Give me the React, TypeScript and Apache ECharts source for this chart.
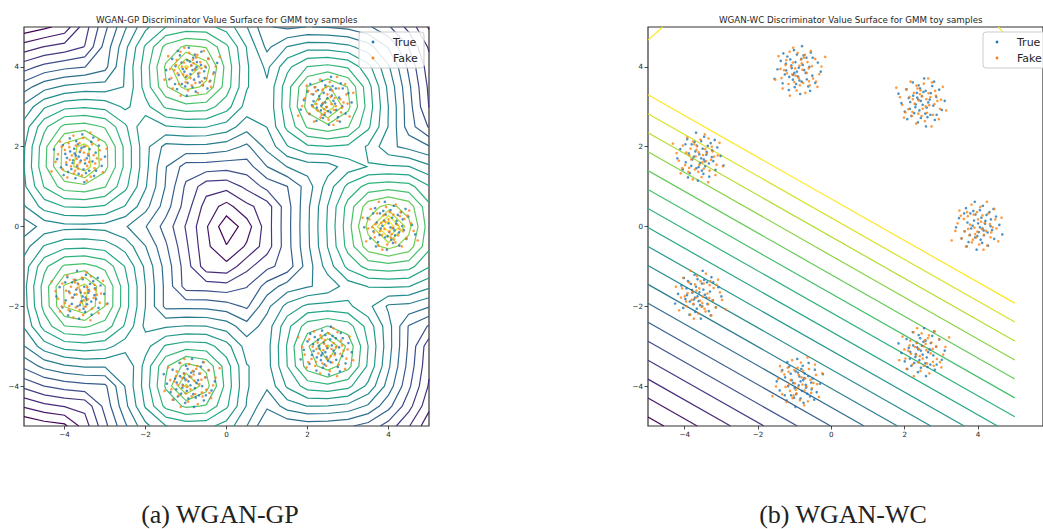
import React, { useEffect, useRef } from "react";
import * as echarts from "echarts";

// ---------------- data ----------------
const clusterX = [4.0, 2.49, -0.89, -3.6, -3.6, -0.89, 2.49];
const clusterY = [0.0, 3.13, 3.9, 1.73, -1.73, -3.9, -3.13];
// relative critic height at each mode (WGAN-GP surface)
const gpPeak = [1.0, 0.85, 0.92, 0.95, 0.9, 0.76, 0.76];
const gpOuterFalloff = 0.1; // drop of the critic outside the ring of modes
const gpLevelCount = 18;
const tickValues = [-4, -2, 0, 2, 4];

// WGAN-WC: straight contour levels of  y + 0.522 x
const wcSlope = 0.522;
const wcLevels = [0.69, 0.215, -0.26, -0.735, -1.21, -1.685, -2.16, -2.635, -3.11, -3.585, -4.06, -4.535, -5.01, -5.485, -5.96, -6.435, -6.91, -7.385];
const wcCornerLines = [
  [[-5, 4.67], [-4.6, 5.0]],
  [[4.55, 5.0], [4.68, 4.87]],
];

const trueOffsets = [
  [0.12, -0.05], [-0.21, 0.33], [0.35, 0.18], [-0.08, -0.27], [0.44, -0.31], [-0.37, -0.12], [0.05, 0.41], [0.19, 0.07], [-0.15, 0.02], [0.27, -0.48],
  [-0.52, 0.21], [0.02, -0.14], [0.31, 0.36], [-0.26, -0.39], [0.09, 0.22], [-0.04, -0.58], [0.58, 0.04], [-0.11, 0.15], [0.16, -0.22], [-0.33, 0.46],
  [0.23, 0.29], [-0.45, -0.3], [0.07, -0.33], [0.38, -0.09], [-0.19, -0.05], [0.0, 0.08], [-0.29, 0.1], [0.13, 0.52], [0.49, 0.25], [-0.07, 0.3],
  [0.26, -0.15], [-0.6, -0.02], [0.11, -0.41], [-0.22, -0.21], [0.34, 0.01], [-0.13, 0.39], [0.05, -0.02], [0.66, -0.2], [-0.38, 0.33], [0.2, 0.14],
  [-0.02, -0.24], [0.42, 0.44], [-0.31, -0.5], [0.15, -0.1], [-0.09, 0.62],
];
const fakeOffsets = [
  [-0.1, 0.06], [0.28, -0.26], [-0.34, 0.27], [0.17, 0.4], [-0.47, -0.18], [0.36, 0.12], [0.03, -0.36], [-0.18, -0.09], [0.51, -0.4], [-0.25, 0.48],
  [0.08, 0.19], [-0.4, 0.02], [0.22, -0.05], [-0.06, -0.49], [0.45, 0.3], [-0.28, -0.33], [0.14, 0.33], [0.62, 0.11], [-0.16, 0.21], [0.0, -0.18],
  [-0.55, 0.37], [0.3, -0.36], [-0.12, -0.28], [0.1, 0.03], [0.39, -0.19], [-0.32, -0.06], [-0.03, 0.45], [0.24, 0.22], [-0.44, -0.44], [0.18, -0.55],
  [-0.21, 0.11], [0.56, -0.08], [0.06, 0.28], [-0.36, 0.15], [0.33, 0.5], [-0.08, -0.12], [0.12, -0.3], [-0.64, -0.22], [0.27, 0.06], [-0.15, 0.58],
  [0.47, -0.27], [0.02, 0.13], [-0.24, -0.62], [0.72, 0.35], [-0.5, 0.05],
];
const mirrors = [[1, 1], [-1, 1], [1, -1], [-1, -1], [1, 1], [-1, -1], [-1, 1]];

// ---------------- helpers ----------------
const VIRIDIS = ["#440154", "#482475", "#414487", "#355f8d", "#2a788e", "#21918c", "#22a884", "#44bf70", "#7ad151", "#bddf26", "#fde725"];
function hex(c: string) { return [parseInt(c.slice(1, 3), 16), parseInt(c.slice(3, 5), 16), parseInt(c.slice(5, 7), 16)]; }
function viridis(t: number) {
  t = Math.max(0, Math.min(1, t));
  const p = t * (VIRIDIS.length - 1);
  const i = Math.min(VIRIDIS.length - 2, Math.floor(p));
  const f = p - i;
  const a = hex(VIRIDIS[i]), b = hex(VIRIDIS[i + 1]);
  const c = a.map((v, k) => Math.round(v + (b[k] - v) * f));
  return `rgb(${c[0]},${c[1]},${c[2]})`;
}

function gpValue(x: number, y: number) {
  let best = -Infinity;
  const P = 3;
  for (let i = 0; i < clusterX.length; i++) {
    const dx = Math.abs(x - clusterX[i]), dy = Math.abs(y - clusterY[i]);
    const d = Math.pow(Math.pow(dx, P) + Math.pow(dy, P), 1 / P);
    const v = gpPeak[i] - Math.pow(d, 0.8);
    if (v > best) best = v;
  }
  const r = Math.sqrt(x * x + y * y);
  return best - gpOuterFalloff * Math.max(0, r - 4.8);
}

function contourLines(N: number) {
  const xs: number[] = [];
  for (let i = 0; i <= N; i++) xs.push(-5 + (10 * i) / N);
  const Z: number[][] = [];
  let zmin = Infinity, zmax = -Infinity;
  for (let i = 0; i <= N; i++) {
    Z.push([]);
    for (let j = 0; j <= N; j++) {
      const v = gpValue(xs[i], xs[j]);
      Z[i].push(v);
      zmin = Math.min(zmin, v); zmax = Math.max(zmax, v);
    }
  }
  const out: any[] = [];
  const step = (zmax - zmin) / (gpLevelCount + 1);
  for (let k = 1; k <= gpLevelCount; k++) {
    const L = zmin + step * k;
    const color = viridis((k - 1) / (gpLevelCount - 1));
    const pts: Record<string, number[]> = {};
    const adj: Record<string, string[]> = {};
    const edgePt = (id: string) => {
      if (pts[id]) return;
      const [t, a, b] = id.split(",");
      const i = +a, j = +b;
      if (t === "h") {
        const v0 = Z[i][j], v1 = Z[i + 1][j];
        const f = (L - v0) / (v1 - v0);
        pts[id] = [xs[i] + (xs[i + 1] - xs[i]) * f, xs[j]];
      } else {
        const v0 = Z[i][j], v1 = Z[i][j + 1];
        const f = (L - v0) / (v1 - v0);
        pts[id] = [xs[i], xs[j] + (xs[j + 1] - xs[j]) * f];
      }
    };
    const link = (a: string, b: string) => {
      edgePt(a); edgePt(b);
      (adj[a] = adj[a] || []).push(b);
      (adj[b] = adj[b] || []).push(a);
    };
    for (let i = 0; i < N; i++) {
      for (let j = 0; j < N; j++) {
        const v00 = Z[i][j], v10 = Z[i + 1][j], v11 = Z[i + 1][j + 1], v01 = Z[i][j + 1];
        const c = (v00 > L ? 1 : 0) | (v10 > L ? 2 : 0) | (v11 > L ? 4 : 0) | (v01 > L ? 8 : 0);
        const B = `h,${i},${j}`, T = `h,${i},${j + 1}`, Le = `v,${i},${j}`, R = `v,${i + 1},${j}`;
        const center = (v00 + v10 + v11 + v01) / 4 > L;
        switch (c) {
          case 1: case 14: link(Le, B); break;
          case 2: case 13: link(B, R); break;
          case 3: case 12: link(Le, R); break;
          case 4: case 11: link(R, T); break;
          case 6: case 9: link(B, T); break;
          case 7: case 8: link(Le, T); break;
          case 5:
            if (center) { link(B, R); link(T, Le); } else { link(Le, B); link(R, T); }
            break;
          case 10:
            if (center) { link(Le, B); link(R, T); } else { link(B, R); link(T, Le); }
            break;
        }
      }
    }
    const used = new Set<string>();
    const walk = (start: string) => {
      const line: number[][] = [pts[start]];
      used.add(start);
      let cur = start;
      while (true) {
        const nxt = (adj[cur] || []).find((n) => !used.has(n));
        if (!nxt) {
          if ((adj[cur] || []).includes(start) && line.length > 2) line.push(pts[start]);
          break;
        }
        used.add(nxt);
        line.push(pts[nxt]);
        cur = nxt;
      }
      return line;
    };
    const ids = Object.keys(adj);
    for (const id of ids) if (!used.has(id) && adj[id].length === 1) out.push({ coords: walk(id), lineStyle: { color } });
    for (const id of ids) if (!used.has(id)) out.push({ coords: walk(id), lineStyle: { color } });
  }
  return out;
}

function wcLines() {
  const cmax = Math.max(...wcLevels), cmin = Math.min(...wcLevels);
  const out: any[] = [];
  for (const c of wcLevels) {
    const xa = Math.max(-5, (c - 5) / wcSlope);
    const xb = Math.min(5, (c + 5) / wcSlope);
    if (xa >= xb) continue;
    out.push({ coords: [[xa, c - wcSlope * xa], [xb, c - wcSlope * xb]], lineStyle: { color: viridis((c - cmin) / (cmax - cmin)) } });
  }
  for (const seg of wcCornerLines) out.push({ coords: seg, lineStyle: { color: viridis(1) } });
  return out;
}

function clusterPoints(offsets: number[][], shift: number) {
  const pts: number[][] = [];
  for (let i = 0; i < clusterX.length; i++) {
    const [sx, sy] = mirrors[(i + shift) % mirrors.length];
    for (const o of offsets) pts.push([clusterX[i] + sx * o[0], clusterY[i] + sy * o[1]]);
  }
  return pts;
}

const fmt = (v: number) => (v < 0 ? "\u2212" + Math.abs(v) : String(v));

function axis(gi: number, max: number) {
  return {
    type: "value", gridIndex: gi, min: -5, max,
    axisLine: { show: false, onZero: false },
    splitLine: { show: false },
    axisTick: { show: true, length: 3.5, customValues: tickValues, lineStyle: { color: "#222", width: 0.8 } },
    axisLabel: { customValues: tickValues, formatter: fmt, fontSize: 7.2, color: "#262626", fontFamily: "DejaVu Sans", margin: 5 },
  };
}

function legend(x: number) {
  const z = 100;
  return {
    type: "group", x, y: 32, z,
    children: [
      { type: "rect", z, shape: { x: 0, y: 0, width: 65, height: 36, r: 3 }, style: { fill: "rgba(255,255,255,0.85)", stroke: "#cccccc", lineWidth: 1 } },
      { type: "circle", z: z + 1, shape: { cx: 14, cy: 10, r: 1.4 }, style: { fill: "#1f77b4" } },
      { type: "circle", z: z + 1, shape: { cx: 14, cy: 26, r: 1.4 }, style: { fill: "#ff7f0e" } },
      { type: "text", z: z + 1, x: 34, y: 10, style: { text: "True", font: '11px "DejaVu Sans"', fill: "#262626", textVerticalAlign: "middle" } },
      { type: "text", z: z + 1, x: 34, y: 26, style: { text: "Fake", font: '11px "DejaVu Sans"', fill: "#262626", textVerticalAlign: "middle" } },
    ],
  };
}

function buildOption() {
  const scatterStyle = (color: string) => ({ symbol: "circle", symbolSize: 2.6, itemStyle: { color }, silent: true });
  return {
    animation: false,
    backgroundColor: "#ffffff",
    grid: [
      { left: 24, top: 27, width: 405, height: 399, show: true, borderColor: "#333", borderWidth: 1.2, backgroundColor: "transparent" },
      { left: 648, top: 27, width: 406, height: 399, show: true, borderColor: "#333", borderWidth: 1.2, backgroundColor: "transparent" },
    ],
    xAxis: [axis(0, 5), axis(1, 5.77)],
    yAxis: [axis(0, 5), axis(1, 5)],
    series: [
      { type: "lines", name: "GP surface", coordinateSystem: "cartesian2d", xAxisIndex: 0, yAxisIndex: 0, polyline: true, silent: true, lineStyle: { width: 1.2, opacity: 1 }, data: contourLines(20) },
      { type: "lines", name: "WC surface", coordinateSystem: "cartesian2d", xAxisIndex: 1, yAxisIndex: 1, polyline: true, silent: true, lineStyle: { width: 1.2, opacity: 1 }, data: wcLines() },
      { type: "scatter", name: "True", xAxisIndex: 0, yAxisIndex: 0, data: clusterPoints(trueOffsets, 0), ...scatterStyle("#1f77b4") },
      { type: "scatter", name: "Fake", xAxisIndex: 0, yAxisIndex: 0, data: clusterPoints(fakeOffsets, 2), ...scatterStyle("#ff7f0e") },
      { type: "scatter", name: "True", xAxisIndex: 1, yAxisIndex: 1, data: clusterPoints(trueOffsets, 4), ...scatterStyle("#1f77b4") },
      { type: "scatter", name: "Fake", xAxisIndex: 1, yAxisIndex: 1, data: clusterPoints(fakeOffsets, 5), ...scatterStyle("#ff7f0e") },
    ],
    graphic: [
      { type: "text", x: 226.7, y: 20, style: { text: "WGAN-GP Discriminator Value Surface for GMM toy samples", font: '8.7px "DejaVu Sans"', fill: "#262626", textAlign: "center", textVerticalAlign: "middle" } },
      { type: "text", x: 850.8, y: 20, style: { text: "WGAN-WC Discriminator Value Surface for GMM toy samples", font: '8.7px "DejaVu Sans"', fill: "#262626", textAlign: "center", textVerticalAlign: "middle" } },
      legend(359),
      legend(983),
      { type: "text", x: 220, y: 514, style: { text: "(a) WGAN-GP", font: '26px "Liberation Serif"', fill: "#222", textAlign: "center", textVerticalAlign: "middle" } },
      { type: "text", x: 843, y: 514, style: { text: "(b) WGAN-WC", font: '26px "Liberation Serif"', fill: "#222", textAlign: "center", textVerticalAlign: "middle" } },
    ],
  };
}

export default function App() {
  const ref = useRef<HTMLDivElement>(null);
  useEffect(() => {
    const chart = echarts.init(ref.current!, undefined, { renderer: "svg", width: 1043, height: 529 });
    chart.setOption(buildOption() as any);
    return () => chart.dispose();
  }, []);
  return <div ref={ref} style={{ position: "fixed", left: 0, top: 0, width: 1043, height: 529, background: "#fff" }} />;
}
